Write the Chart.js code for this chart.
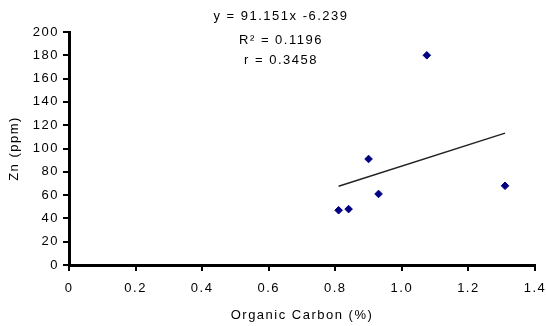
<!DOCTYPE html>
<html>
<head>
<meta charset="utf-8">
<script src="https://cdn.jsdelivr.net/npm/chart.js@4"></script>
<style>
    html, body { margin: 0; padding: 0; background: #fff; }
    #zn-chart { display: block; }
</style>
</head>
<body>
<canvas id="zn-chart" width="546" height="326"></canvas>
<script>
// Organic carbon (%) vs Zn (ppm)
const organicCarbon = [0.81, 0.84, 0.90, 0.93, 1.075, 1.31];
const znPpm = [47, 48, 91, 61, 180, 68];

// trend line ends (y = 91.151x - 6.239 over the data range)
const trendX = [0.81, 1.31];
const trendY = [67.6, 113.2];

const equationLines = ['y = 91.151x -6.239', 'R\u00b2 = 0.1196', 'r = 0.3458'];

const xTicks = [0, 0.2, 0.4, 0.6, 0.8, 1, 1.2, 1.4];
const yTicks = [0, 20, 40, 60, 80, 100, 120, 140, 160, 180, 200];

const FONT = { family: '"Liberation Sans", Arial, sans-serif', size: 13 };

// spaced-out text like the original bitmap
const letterSpacing = {
    id: 'letterSpacing',
    beforeLayout(chart) { chart.ctx.letterSpacing = '1.5px'; },
    beforeDraw(chart) { chart.ctx.letterSpacing = '1.5px'; }
};

// regression equation block above the points
const equationText = {
    id: 'equationText',
    afterDraw(chart) {
        const ctx = chart.ctx;
        ctx.save();
        ctx.letterSpacing = '1.5px';
        ctx.font = '13px ' + FONT.family;
        ctx.fillStyle = '#000';
        ctx.textAlign = 'center';
        ctx.textBaseline = 'middle';
        const ys = [16, 40, 60];
        equationLines.forEach((line, i) => ctx.fillText(line, 281, ys[i]));
        ctx.restore();
    }
};

new Chart(document.getElementById('zn-chart'), {
    type: 'scatter',
    data: {
        datasets: [{
            label: 'Zn',
            data: organicCarbon.map((x, i) => ({ x: x, y: znPpm[i] })),
            pointStyle: 'rectRot',
            pointRadius: 3.8,
            pointHoverRadius: 3.8,
            backgroundColor: '#000080',
            borderColor: '#000080',
            borderWidth: 1
        }, {
            type: 'line',
            label: 'Trend',
            data: trendX.map((x, i) => ({ x: x, y: trendY[i] })),
            borderColor: '#222',
            borderWidth: 1.5,
            pointRadius: 0,
            fill: false
        }]
    },
    options: {
        responsive: false,
        animation: false,
        events: [],
        layout: { padding: { top: 32, right: 0, left: 0, bottom: 0 } },
        plugins: {
            legend: { display: false },
            tooltip: { enabled: false }
        },
        scales: {
            x: {
                type: 'linear',
                min: 0,
                max: 1.4,
                afterBuildTicks: scale => { scale.ticks = xTicks.map(v => ({ value: v })); },
                afterFit: scale => {
                    scale.height = 61;
                    scale.paddingRight = 11;
                    scale.paddingLeft = 0;
                },
                border: { display: true, color: '#000', width: 3 },
                grid: { drawOnChartArea: false, drawTicks: true, tickLength: 6, color: '#000', lineWidth: 2 },
                ticks: { color: '#000', font: FONT, padding: 10, maxRotation: 0 },
                title: { display: true, text: 'Organic Carbon (%)', color: '#000', font: FONT, padding: { top: 0, bottom: 3 } }
            },
            y: {
                min: 0,
                max: 200,
                afterBuildTicks: scale => { scale.ticks = yTicks.map(v => ({ value: v })); },
                afterFit: scale => { scale.width = 69; },
                border: { display: true, color: '#000', width: 3 },
                grid: { drawOnChartArea: false, drawTicks: true, tickLength: 6, color: '#000', lineWidth: 2 },
                ticks: { color: '#000', font: FONT, padding: 4 },
                title: { display: true, text: 'Zn (ppm)', color: '#000', font: FONT, padding: { top: 7, bottom: 0 } }
            }
        }
    },
    plugins: [letterSpacing, equationText]
});
</script>
</body>
</html>
